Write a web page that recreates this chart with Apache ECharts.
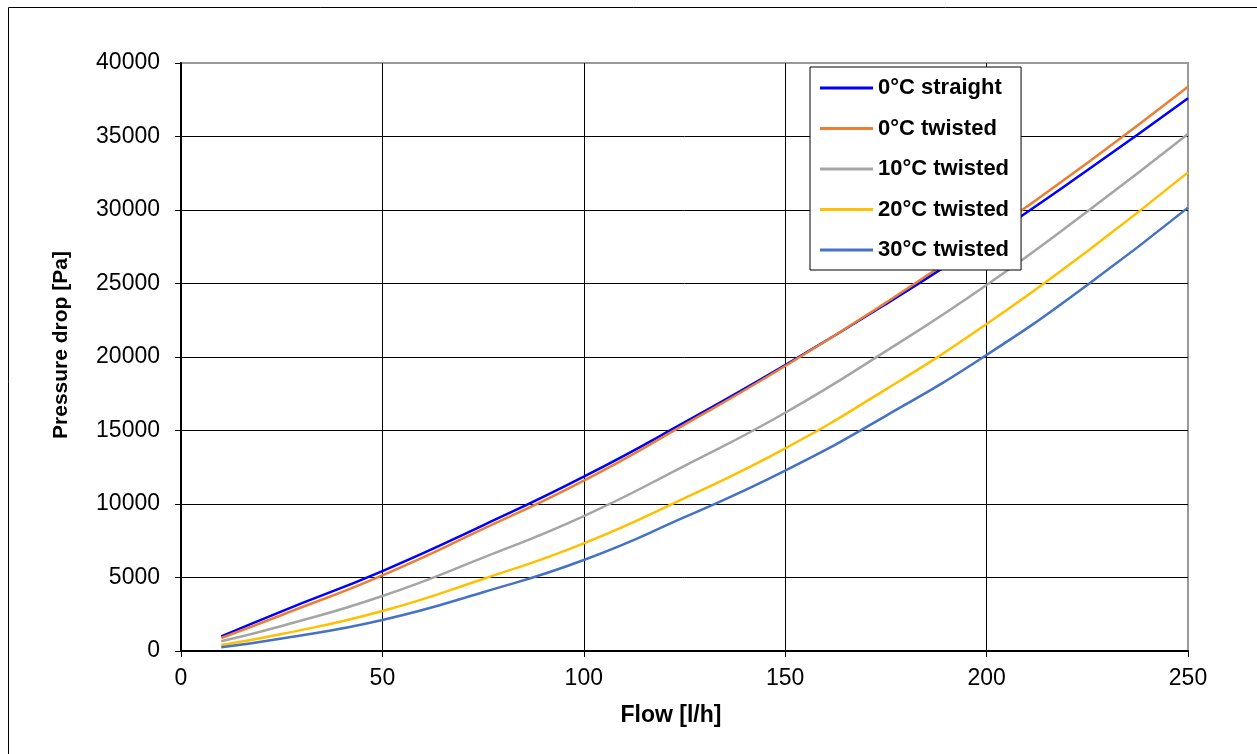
<!DOCTYPE html>
<html>
<head>
<meta charset="utf-8">
<script src="https://cdn.jsdelivr.net/npm/echarts@6/dist/echarts.min.js"></script>
<style>
  html, body { margin: 0; padding: 0; background: #fff; }
  #main { width: 1257px; height: 754px; }
</style>
</head>
<body>
<div id="main"></div>
<script>
  // flow [l/h]
  var flow = [10, 25, 50, 75, 100, 125, 150, 175, 200, 225, 250];
  // pressure drop [Pa]
  var straight0 = [1000, 2700, 5440, 8550, 11860, 15550, 19450, 23600, 28000, 32700, 37600];
  var twisted0 = [884, 2450, 5150, 8300, 11590, 15400, 19390, 23700, 28300, 33200, 38390];
  var twisted10 = [660, 1700, 3740, 6350, 9180, 12600, 16210, 20400, 24900, 29900, 35170];
  var twisted20 = [408, 1150, 2720, 4900, 7320, 10400, 13790, 17800, 22240, 27200, 32560];
  var twisted30 = [250, 850, 2110, 4000, 6190, 9100, 12270, 16000, 20140, 24900, 30160];

  var names = ['0°C straight', '0°C twisted', '10°C twisted', '20°C twisted', '30°C twisted'];
  var colors = ['#0000FF', '#ED7D31', '#A5A5A5', '#FFC000', '#4472C4'];
  var allData = [straight0, twisted0, twisted10, twisted20, twisted30];

  var font = 'Liberation Sans, Arial, sans-serif';

  function pairs(ys) {
    return flow.map(function (x, i) { return [x, ys[i]]; });
  }

  var series = allData.map(function (ys, i) {
    return {
      name: names[i],
      type: 'line',
      smooth: true,
      showSymbol: false,
      data: pairs(ys),
      lineStyle: { color: colors[i], width: 2.5 },
      itemStyle: { color: colors[i] },
      z: 3
    };
  });

  var myChart = echarts.init(document.getElementById('main'));
  var option = {
    animation: false,
    backgroundColor: '#fff',
    graphic: [{
      type: 'rect',
      shape: { x: 8.5, y: 7.5, width: 1270, height: 770 },
      style: { fill: 'none', stroke: '#000', lineWidth: 1 },
      silent: true
    }, {
      // axis titles sit a bit off-centre in the original
      type: 'text',
      x: 671, y: 716,
      style: {
        text: 'Flow [l/h]', fill: '#000',
        font: 'bold 23px ' + font,
        textAlign: 'center', textVerticalAlign: 'middle'
      }
    }, {
      type: 'text',
      x: 61, y: 345,
      rotation: Math.PI / 2,
      style: {
        text: 'Pressure drop [Pa]', fill: '#000',
        font: 'bold 21px ' + font,
        textAlign: 'center', textVerticalAlign: 'middle'
      }
    }],
    grid: {
      left: 181, right: 69, top: 63, bottom: 103,
      show: true,
      borderColor: '#999',
      borderWidth: 2
    },
    legend: {
      orient: 'vertical',
      left: 810,
      top: 67,
      padding: [10, 12, 9, 10],
      itemGap: 18.5,
      itemWidth: 53,
      itemHeight: 3,
      icon: 'rect',
      backgroundColor: '#fff',
      borderColor: '#000',
      borderWidth: 1,
      borderRadius: 0,
      textStyle: { fontFamily: font, fontSize: 22, fontWeight: 'bold', color: '#000' },
      data: names
    },
    xAxis: {
      type: 'value',
      min: 0, max: 250, interval: 50,
      axisLine: { show: true, lineStyle: { color: '#000', width: 2 } },
      axisTick: { show: true, length: 6, lineStyle: { color: '#000' } },
      axisLabel: { fontFamily: font, fontSize: 23, color: '#000', margin: 16 },
      splitLine: { show: true, lineStyle: { color: ['#000', '#000', '#000', '#000', '#000', '#999'], width: 1 } }
    },
    yAxis: {
      type: 'value',
      min: 0, max: 40000, interval: 5000,
      axisLine: { show: true, lineStyle: { color: '#000', width: 2 } },
      axisTick: { show: true, length: 6, lineStyle: { color: '#000' } },
      axisLabel: {
        fontFamily: font, fontSize: 23, color: '#000', margin: 21,
        formatter: function (v) { return String(v); }
      },
      splitLine: { show: true, lineStyle: { color: ['#000', '#000', '#000', '#000', '#000', '#000', '#000', '#000', '#999'], width: 1 } }
    },
    series: series
  };
  myChart.setOption(option);
</script>
</body>
</html>
